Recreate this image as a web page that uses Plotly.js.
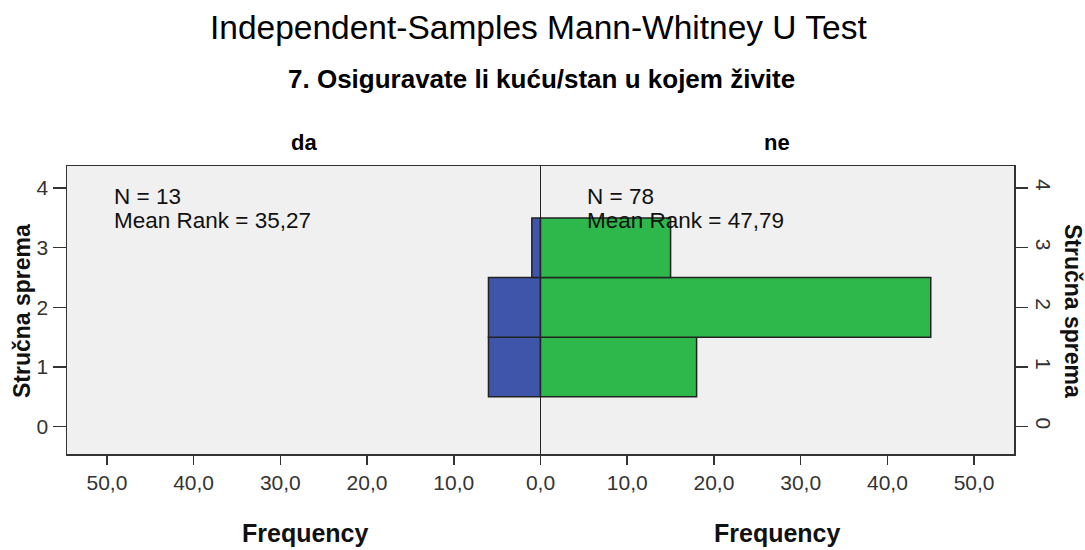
<!DOCTYPE html>
<html>
<head>
<meta charset="utf-8">
<script src="https://cdn.plot.ly/plotly-3.0.1.min.js"></script>
<style>html,body{margin:0;padding:0;background:#fff;}#chart{width:1085px;height:550px;}</style>
</head>
<body>
<div id="chart"></div>
<script>
const categories = [1, 2, 3];
const daFreq = [6, 6, 1];
const neFreq = [18, 45, 15];
const groupLabels = ['da', 'ne'];
const nValues = [13, 78];
const meanRanks = ['35,27', '47,79'];
const yTickVals = [0, 1, 2, 3, 4];
const xTickVals = [-50, -40, -30, -20, -10, 0, 10, 20, 30, 40, 50];
const xTickText = ['50,0', '40,0', '30,0', '20,0', '10,0', '0,0', '10,0', '20,0', '30,0', '40,0', '50,0'];
const mainTitle = 'Independent-Samples Mann-Whitney U Test';
const subTitle = '7. Osiguravate li kuću/stan u kojem živite';
const yTitle = 'Stručna sprema';
const xTitle = 'Frequency';

const FONT = '"Liberation Sans", Arial, sans-serif';
const yRange = [-0.46, 4.37];

const traces = [
  {
    type: 'bar', orientation: 'h', y: categories, x: daFreq.map(v => -v), width: 1,
    xaxis: 'x', yaxis: 'y',
    marker: {color: '#3F55AA', line: {color: '#222', width: 1.5}}, hoverinfo: 'skip'
  },
  {
    type: 'bar', orientation: 'h', y: categories, x: neFreq, width: 1,
    xaxis: 'x', yaxis: 'y2',
    marker: {color: '#2EB84B', line: {color: '#222', width: 1.5}}, hoverinfo: 'skip'
  }
];

const W = 947, H = 288, L = 67, T = 166;
const px = x => (x - L) / W;
const py = y => (T + H - y) / H;

const annotations = [
  {text: mainTitle, x: px(538), y: py(27), font: {family: FONT, size: 33.5, color: '#000'}},
  {text: subTitle, x: px(541), y: py(79), font: {family: FONT, size: 26, color: '#000', weight: 'bold'}},
  {text: groupLabels[0], x: px(304), y: py(142), font: {family: FONT, size: 22, color: '#000', weight: 'bold'}},
  {text: groupLabels[1], x: px(777), y: py(142), font: {family: FONT, size: 22, color: '#000', weight: 'bold'}},
  {text: xTitle, x: px(305), y: py(533), font: {family: FONT, size: 25, color: '#111', weight: 'bold'}},
  {text: xTitle, x: px(777), y: py(533), font: {family: FONT, size: 25, color: '#111', weight: 'bold'}},
  {text: yTitle, x: px(22), y: py(311), textangle: -90, font: {family: FONT, size: 23, color: '#111', weight: 'bold'}},
  {text: yTitle, x: px(1073), y: py(311), textangle: 90, font: {family: FONT, size: 23, color: '#111', weight: 'bold'}},
  {text: 'N = ' + nValues[0], x: px(112), y: py(196), xanchor: 'left', font: {family: FONT, size: 22.5, color: '#111'}},
  {text: 'Mean Rank = ' + meanRanks[0], x: px(112), y: py(220), xanchor: 'left', font: {family: FONT, size: 22.5, color: '#111'}},
  {text: 'N = ' + nValues[1], x: px(585), y: py(196), xanchor: 'left', font: {family: FONT, size: 22.5, color: '#111'}},
  {text: 'Mean Rank = ' + meanRanks[1], x: px(585), y: py(220), xanchor: 'left', font: {family: FONT, size: 22.5, color: '#111'}}
].map(a => Object.assign({xref: 'paper', yref: 'paper', showarrow: false, xanchor: 'center', yanchor: 'middle'}, a));

const tickFont = {family: FONT, size: 21, color: '#333'};

const layout = {
  width: 1085, height: 550,
  margin: {l: 67, r: 71, t: 166, b: 96, pad: 0},
  paper_bgcolor: '#ffffff', plot_bgcolor: '#F0F0F0',
  showlegend: false, barmode: 'overlay', bargap: 0,
  font: {family: FONT, color: '#333'},
  xaxis: {
    range: [-54.6, 54.6], tickvals: xTickVals, ticktext: xTickText,
    ticks: 'outside', ticklen: 9, tickwidth: 1.5, tickcolor: '#333',
    showline: true, linecolor: '#333', linewidth: 1.5, mirror: true,
    zeroline: true, zerolinecolor: '#222', zerolinewidth: 1.5,
    showgrid: false, fixedrange: true, automargin: false,
    tickfont: tickFont
  },
  yaxis: {
    range: yRange, tickvals: yTickVals,
    ticks: 'outside', ticklen: 13, tickwidth: 1.5, tickcolor: '#333',
    showline: true, linecolor: '#333', linewidth: 1.5, mirror: true,
    zeroline: false, showgrid: false, fixedrange: true, automargin: false,
    tickfont: tickFont
  },
  yaxis2: {
    overlaying: 'y', side: 'right', anchor: 'x',
    range: yRange, tickvals: yTickVals, tickangle: 90,
    ticks: 'outside', ticklen: 13, tickwidth: 1.5, tickcolor: '#333',
    showline: false, zeroline: false, showgrid: false, fixedrange: true, automargin: false,
    tickfont: tickFont
  },
  annotations: annotations
};

Plotly.newPlot('chart', traces, layout, {displayModeBar: false, staticPlot: true});
</script>
</body>
</html>
